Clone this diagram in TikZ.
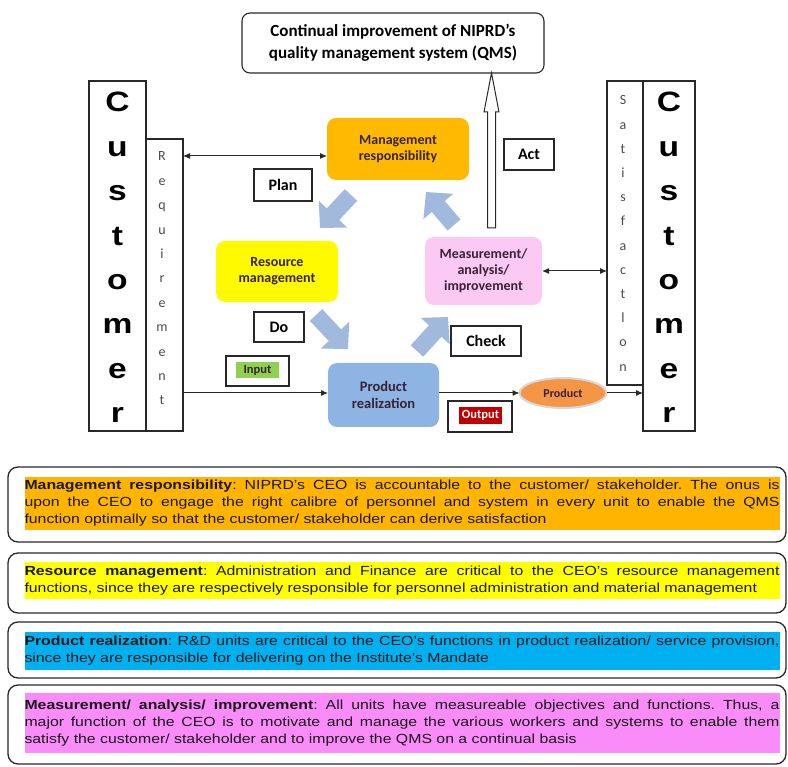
\documentclass[tikz,border=0pt]{standalone}
\usepackage{fontspec}
\setmainfont{Carlito}
\newfontfamily\arialf[FakeStretch=1.2]{Liberation Sans}
\newfontfamily\custf[FakeStretch=1.2]{Liberation Sans}
\usetikzlibrary{arrows.meta,calc,shapes.geometric}
\definecolor{mgorange}{RGB}{255,186,0}
\definecolor{resyellow}{RGB}{255,250,0}
\definecolor{prodblue}{RGB}{141,180,226}
\definecolor{measpink}{RGB}{252,200,244}
\definecolor{boxline}{RGB}{40,40,40}
\definecolor{arrblue}{RGB}{160,185,220}
\definecolor{inkdark}{RGB}{55,35,55}
\definecolor{ellorange}{RGB}{244,150,70}
\definecolor{ingreen}{RGB}{146,208,80}
\definecolor{outred}{RGB}{192,0,0}
\definecolor{bglorange}{RGB}{255,180,0}
\definecolor{bglyellow}{RGB}{255,255,0}
\definecolor{bglblue}{RGB}{0,176,240}
\definecolor{bglpink}{RGB}{250,140,250}
\definecolor{bodyink}{RGB}{25,25,25}
\definecolor{letgray}{RGB}{75,75,75}
\frenchspacing
\begin{document}
\begin{tikzpicture}[x=1pt,y=-1pt,
  every node/.style={inner sep=0pt,outer sep=0pt},
  frame/.style={draw=boxline,line width=1.1pt},
  sizebox/.style 2 args={minimum width=#1pt,minimum height=#2pt},
  colbox/.style={rounded corners=9pt,text=inkdark,font=\bfseries\fontsize{14}{16}\selectfont,align=center},
  tagbox/.style={frame,fill=white,font=\bfseries\fontsize{16}{18}\selectfont},
  custletter/.style={anchor=base,font=\custf\bfseries\fontsize{28}{30}\selectfont},
  smallletter/.style={anchor=base,text=letgray,font=\fontsize{14}{16}\selectfont},
  conn/.style={line width=1pt,draw=boxline},
  tipl/.style={-{Latex[length=7pt,width=6pt]}},
  tipb/.style={{Latex[length=7pt,width=6pt]}-{Latex[length=7pt,width=6pt]}},
  blockarr/.style={line width=17pt,draw=arrblue,-{Triangle[length=19pt,width=38pt]}},
  descbox/.style={draw=boxline,line width=1.3pt,rounded corners=10pt},
  desctext/.style={text width=755pt,align=justify,text=bodyink,font=\arialf\fontsize{13.2}{17}\selectfont}
]
\useasboundingbox (0,0) rectangle (788,767);

% top box
\node[frame,rounded corners=8pt,sizebox={302}{60},align=center,font=\bfseries\fontsize{17}{22}\selectfont] (top) at (393,43)
  {Continual improvement of NIPRD’s\\quality management system (QMS)};

% customer columns
\node[frame,sizebox={57}{350}] (custL) at (117.5,256) {};
\node[frame,sizebox={37}{292}] (req) at (164.5,285) {};
\node[frame,sizebox={36}{304}] (sat) at (625,233) {};
\node[frame,sizebox={52}{350}] (custR) at (669,256) {};

\foreach \ch [count=\i from 0] in {C,u,s,t,o,m,e,r}{
  \node[custletter] (cl\i) at (117.5,112+44.4*\i) {\ch};
  \node[custletter] (cr\i) at (669,112+44.4*\i) {\ch};
}
\foreach \ch [count=\i from 0] in {R,e,q,u,i,r,e,m,e,n,t}{
  \node[smallletter] (rq\i) at (162,161+24.4*\i) {\ch};
}
\foreach \ch [count=\i from 0] in {S,a,t,i,s,f,a,c,t,l,o,n}{
  \node[smallletter] (st\i) at (623,105+24.2*\i) {\ch};
}

% process boxes
\node[colbox,fill=mgorange,sizebox={142}{62}] (mgmt) at (398,149) {Management\\responsibility};
\node[colbox,fill=resyellow,sizebox={122}{61}] (res) at (277,271.5) {Resource\\management};
\node[colbox,fill=prodblue,sizebox={111}{64},font=\bfseries\fontsize{14.5}{17}\selectfont] (prod) at (383.5,395) {Product\\realization};
\node[colbox,fill=measpink,sizebox={117}{68}] (meas) at (483.5,271) {Measurement/\\analysis/\\improvement};

% tags
\node[tagbox,sizebox={58}{32}] (plan) at (283,185) {Plan};
\node[tagbox,sizebox={50}{31}] (act) at (529,154.5) {Act};
\node[tagbox,sizebox={50}{30}] (do) at (279,327) {Do};
\node[tagbox,sizebox={70}{30}] (check) at (486,341) {Check};

\node[frame,fill=white,sizebox={63}{30}] (input) at (257.5,371) {};
\node[fill=ingreen,sizebox={43}{16},font=\bfseries\fontsize{12.5}{14}\selectfont,text=inkdark] (inputlbl) at (257.5,370) {Input};
\node[frame,fill=white,sizebox={64}{31}] (output) at (480,416.5) {};
\node[fill=outred,sizebox={43}{17},font=\bfseries\fontsize{12.5}{14}\selectfont,text=white] (outputlbl) at (480.5,415.5) {Output};

\node[ellipse,fill=ellorange,draw={rgb,255:red,215;green,215;blue,215},line width=2pt,sizebox={87}{30},font=\bfseries\fontsize{12}{14}\selectfont,text=inkdark] (ell) at (563,393) {Product};

% connectors
\coordinate (mgin) at ([yshift=-7pt]mgmt.west);
\draw[conn,tipb] (req.east |- mgin) -- (mgin);
\draw[conn,tipb] (meas.east) -- (meas.east -| sat.west);
\draw[conn,tipl] (req.east |- ell.west) -- (prod.west |- ell.west);
\draw[conn,tipl] (prod.east |- ell.west) -- (ell.west);
\draw[conn,tipl] (ell.east) -- (ell.east -| custR.west);

% hollow arrow to top box
\draw[draw=boxline,line width=1pt,fill=white,line join=miter]
  (487.5,228) -- (487.5,112) -- (484,112) -- (491.5,73) -- (499,112) -- (495.5,112) -- (495.5,228) -- cycle;

% block arrows of the cycle
\coordinate (a1t) at (351,195); \coordinate (a1h) at (320,228);
\coordinate (a2t) at (316,315); \coordinate (a2h) at (348,349);
\coordinate (a3t) at (417,351); \coordinate (a3h) at (448,317);
\coordinate (a4t) at (454,225); \coordinate (a4h) at (426,192);
\draw[blockarr] (a1t) -- (a1h);
\draw[blockarr] (a2t) -- (a2h);
\draw[blockarr] (a3t) -- (a3h);
\draw[blockarr] (a4t) -- (a4h);

% description boxes
\node[descbox,sizebox={778}{75}] (d1) at (397,504.5) {};
\node[desctext,fill=bglorange,minimum height=53pt] (t1) at (402,503.5) {\textbf{Management responsibility}: NIPRD’s CEO is accountable to the customer/ stakeholder. The onus is\linebreak upon the CEO to engage the right calibre of personnel and system in every unit to enable the QMS\linebreak function optimally so that the customer/ stakeholder can derive satisfaction};

\node[descbox,sizebox={778}{60}] (d2) at (397,583) {};
\node[desctext,fill=bglyellow,minimum height=37pt] (t2) at (402,580.5) {\textbf{Resource management}: Administration and Finance are critical to the CEO’s resource management\linebreak functions, since they are respectively responsible for personnel administration and material management};

\node[descbox,sizebox={778}{56}] (d3) at (397,650) {};
\node[desctext,fill=bglblue,minimum height=38pt] (t3) at (402,651) {\textbf{Product realization}: R\&D units are critical to the CEO’s functions in product realization/ service provision,\linebreak since they are responsible for delivering on the Institute’s Mandate};

\node[descbox,sizebox={778}{79}] (d4) at (397,724.5) {};
\node[desctext,fill=bglpink,minimum height=60pt] (t4) at (402,723) {\textbf{Measurement/ analysis/ improvement}: All units have measureable objectives and functions. Thus, a\linebreak major function of the CEO is to motivate and manage the various workers and systems to enable them\linebreak satisfy the customer/ stakeholder and to improve the QMS on a continual basis};
\end{tikzpicture}
\end{document}
